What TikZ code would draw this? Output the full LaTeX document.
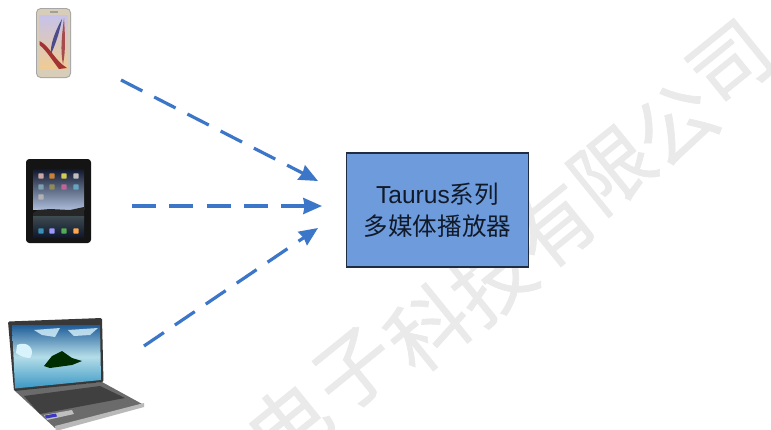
\documentclass[tikz,border=0pt]{standalone}
\usepackage{fontspec}
\setmainfont{Liberation Sans}
\newfontfamily\cjk{Noto Sans CJK SC}
\newfontfamily\cjkheavy[FakeBold=0.8]{Noto Sans CJK SC}
\usetikzlibrary{arrows.meta}
\definecolor{linkblue}{HTML}{3C76C8}
\definecolor{boxblue}{HTML}{6E9BDC}
\definecolor{boxedge}{HTML}{1F2D44}
\definecolor{inkdark}{HTML}{111A28}
\definecolor{markgray}{HTML}{EAEAEA}
\definecolor{phonegold}{HTML}{D8CDB8}
\definecolor{phonetop}{HTML}{C6C3EA}
\definecolor{phonelow}{HTML}{F0CB92}
\definecolor{navy}{HTML}{10182E}
\definecolor{skyband}{HTML}{A9B9D6}
\definecolor{water}{HTML}{3E4B50}
\definecolor{skydeep}{HTML}{1F5D99}
\definecolor{skypale}{HTML}{B4DDE8}
\definecolor{seablue}{HTML}{3A97C4}
\tikzset{
  link/.style={draw=linkblue,line width=2.4pt,dash pattern=on 18pt off 10pt,
    -{Stealth[length=14pt,width=12pt,inset=1pt,sep=0pt]}},
  mainbox/.style={draw=boxedge,fill=boxblue,line width=0.9pt,minimum width=137pt,minimum height=85.5pt,
    inner sep=0pt,align=center,text=inkdark,font=\fontsize{18.4}{24}\selectfont},
  wm/.style={text=markgray,rotate=39,inner sep=0pt,font=\cjkheavy\fontsize{60}{60}\selectfont},
  device/.style={minimum width=1pt,minimum height=1pt,inner sep=0pt},
  icon/.style={rounded corners=0.5pt,draw=none}
}
\begin{document}
\begin{tikzpicture}[x=0.75pt,y=-0.75pt]
\useasboundingbox (0,0) rectangle (771,429);
\clip (0,0) rectangle (771,429);
\fill[white] (0,0) rectangle (771,429);
% watermark
\node[wm] (w1) at (288,424) {电};
\node[wm] (w2) at (355,370) {子};
\node[wm] (w3) at (428,328) {科};
\node[wm] (w4) at (492,280) {技};
\node[wm] (w5) at (553,226) {有};
\node[wm] (w6) at (612,170) {限};
\node[wm] (w7) at (675,124) {公};
\node[wm] (w8) at (731,64) {司};
% phone
\fill[rounded corners=3.5pt,fill=gray!70] (36,8) rectangle (71,78);
\fill[rounded corners=3pt,fill=phonegold] (37,9) rectangle (70,77);
\shade[top color=phonetop,bottom color=phonelow] (39.5,15) rectangle (67.5,69);
\fill[red!55!black!80] (39.5,41) .. controls (50,46) and (54,60) .. (67,68) -- (59,69) .. controls (52,60) and (46,50) .. (39.5,45) -- cycle;
\fill[blue!35!black!70] (62,19) .. controls (59,35) and (55,45) .. (51,54) .. controls (50,48) and (53,35) .. (62,19) -- cycle;
\fill[red!50!black!70] (64,18) .. controls (62,35) and (60,50) .. (63,64) .. controls (66,50) and (65,35) .. (64,18) -- cycle;
\fill[gray!75] (50,10.5) rectangle (58,12.5);
% tablet
\fill[rounded corners=2.5pt,fill=black!92] (26,159) rectangle (91,243);
\shade[top color=navy,bottom color=skyband] (33,169) rectangle (84,209);
\fill[black!85] (33,213) -- (38,210) -- (50,209) -- (70,210) -- (84,207) -- (84,218) -- (33,218) -- cycle;
\shade[top color=water,bottom color=navy] (33,216) rectangle (84,237);
\foreach \ix/\iy/\ic in {41/176/pink!60!gray,52/176/orange!60!gray,64/176/yellow!60!gray,76/176/gray!50,
  41/187/cyan!30!gray,52/187/olive!40!gray,64/187/magenta!50!gray,76/187/cyan!50!gray,41/197/gray!60,
  41/231/cyan!70!black,52/231/blue!40!white,64/231/green!35!gray,76/231/orange!70}
  \fill[icon,fill=\ic] (\ix-2.7,\iy-2.7) rectangle (\ix+2.7,\iy+2.7);
% laptop
\fill[black!58] (14,390) -- (102,382) -- (144,405) -- (55,428) -- cycle;
\fill[gray!55] (55,426) -- (144,403) -- (144,407) -- (56,431) -- cycle;
\fill[black!75] (24,396) -- (100,386) -- (125,398) -- (40,414) -- cycle;
\fill[gray!50] (44,415) -- (72,410) -- (74,414) -- (47,420) -- cycle;
\fill[blue!55!gray] (45,415.5) -- (56,413.5) -- (57,416.5) -- (46,418.5) -- cycle;
\fill[rounded corners=1pt,fill=black!78] (8,321.5) -- (102,318) -- (103.5,382) -- (14,391) -- cycle;
\shade[top color=skydeep,bottom color=seablue,middle color=skypale] (12,325) -- (100,325) -- (101,380) -- (15,388.5) -- cycle;
\fill[white!85!cyan] (17,345) .. controls (28,340) and (36,350) .. (30,358) .. controls (25,358) and (20,356) .. (16,353) -- cycle;
\fill[white!85!cyan,opacity=.8] (34,330) -- (60,328) -- (55,337) -- (42,335) -- cycle;
\fill[white!85!cyan,opacity=.8] (68,330) -- (98,328) -- (90,335) -- (74,336) -- cycle;
\fill[black!65!green!50!black] (44,366) -- (52,356) -- (62,351) -- (72,358) -- (82,361) -- (72,365) -- (50,368) -- cycle;
% box
\node[mainbox] (box) at (437.5,210) {Taurus{\cjk 系列}\\{\cjk 多媒体播放器}};
% device anchors and links
\node[device] (phone) at (53.5,43) {};
\node[device] (tablet) at (58.5,201) {};
\node[device] (laptop) at (75,372) {};
\coordinate (s1) at (121,80);
\coordinate (s2) at (132,206);
\coordinate (s3) at (144,346);
\coordinate (e1) at (318,181);
\coordinate (e2) at (322,206);
\coordinate (e3) at (318,228);
\draw[link] (s1) -- (e1);
\draw[link] (s2) -- (e2);
\draw[link] (s3) -- (e3);
\end{tikzpicture}
\end{document}
